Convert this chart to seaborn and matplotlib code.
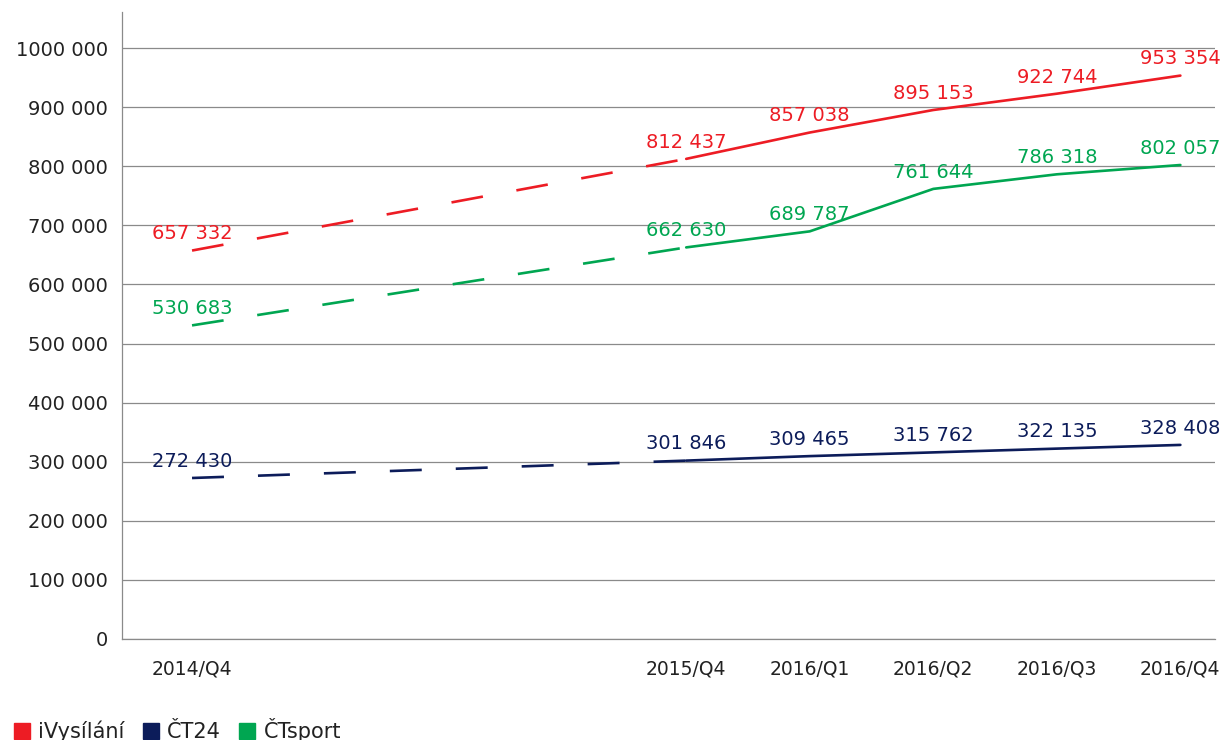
import pandas as pd
import seaborn as sns
import matplotlib.pyplot as plt
from matplotlib.lines import Line2D

# quarters on a continuous quarter index (2014/Q4 = 0)
quarter_labels = ["2014/Q4", "2015/Q4", "2016/Q1", "2016/Q2", "2016/Q3", "2016/Q4"]
quarter_pos = [0, 4, 5, 6, 7, 8]

ivysilani = [657332, 812437, 857038, 895153, 922744, 953354]
ct24 = [272430, 301846, 309465, 315762, 322135, 328408]
ctsport = [530683, 662630, 689787, 761644, 786318, 802057]

series_names = ["iVysílání", "ČT24", "ČTsport"]
colors = {"iVysílání": "#ED1C24", "ČT24": "#0C1C5A", "ČTsport": "#00A651"}

# ---------------------------
# Build long DataFrame: dashed gap segment + solid segment
# ---------------------------
rows = []
for name, vals in zip(series_names, [ivysilani, ct24, ctsport]):
    for i, (q, v) in enumerate(zip(quarter_pos, vals)):
        if i <= 1:
            rows.append({"q": q, "value": v, "series": name, "seg": "gap"})
        if i >= 1:
            rows.append({"q": q, "value": v, "series": name, "seg": "data"})
df = pd.DataFrame(rows)

sns.set_style("white")
plt.rcParams["font.family"] = ["DejaVu Sans"]
plt.rcParams["lines.scale_dashes"] = False

fig = plt.figure(figsize=(12.26, 7.4), dpi=100)
ax = fig.add_axes([0.0995, 0.1365, 0.8915, 0.8473])

sns.lineplot(data=df, x="q", y="value", hue="series", style="seg",
             palette=colors, dashes={"data": "", "gap": (23, 24.5)},
             hue_order=series_names, linewidth=1.9, legend=False, ax=ax, sort=True)

# data labels
for name, vals in zip(series_names, [ivysilani, ct24, ctsport]):
    for q, v in zip(quarter_pos, vals):
        txt = f"{v:,}".replace(",", " ")
        ax.annotate(txt, (q, v), xytext=(0, 12), textcoords="offset points",
                    ha="center", va="center", fontsize=14, color=colors[name])

ax.set_xlim(-0.567, 8.28)
ax.set_ylim(0, 1061000)
yt = list(range(0, 1000001, 100000))
ax.set_yticks(yt)
ax.set_yticklabels([f"{t // 1000} {t % 1000:03d}" if t else "0" for t in yt])
ax.set_xticks(quarter_pos)
ax.set_xticklabels(quarter_labels)
ax.tick_params(axis="y", length=0, pad=10, labelsize=14, labelcolor="#222222")
ax.tick_params(axis="x", length=0, pad=15, labelsize=13.5, labelcolor="#222222")
ax.set_xlabel("")
ax.set_ylabel("")

ax.grid(axis="y", color="#8a8a8a", linewidth=0.9)
ax.set_axisbelow(True)
for s in ["top", "right"]:
    ax.spines[s].set_visible(False)
for s in ["left", "bottom"]:
    ax.spines[s].set_color("#8a8a8a")
    ax.spines[s].set_linewidth(0.9)

handles = [Line2D([], [], marker="s", linestyle="", markersize=11,
                  color=colors[n], label=n) for n in series_names]
fig.legend(handles=handles, loc="lower left", bbox_to_anchor=(-0.004, -0.028),
           ncol=3, frameon=False, fontsize=15, handletextpad=0.4,
           columnspacing=0.9, handlelength=0.75, labelcolor="#222222")

fig.savefig("out.png", dpi=100)
